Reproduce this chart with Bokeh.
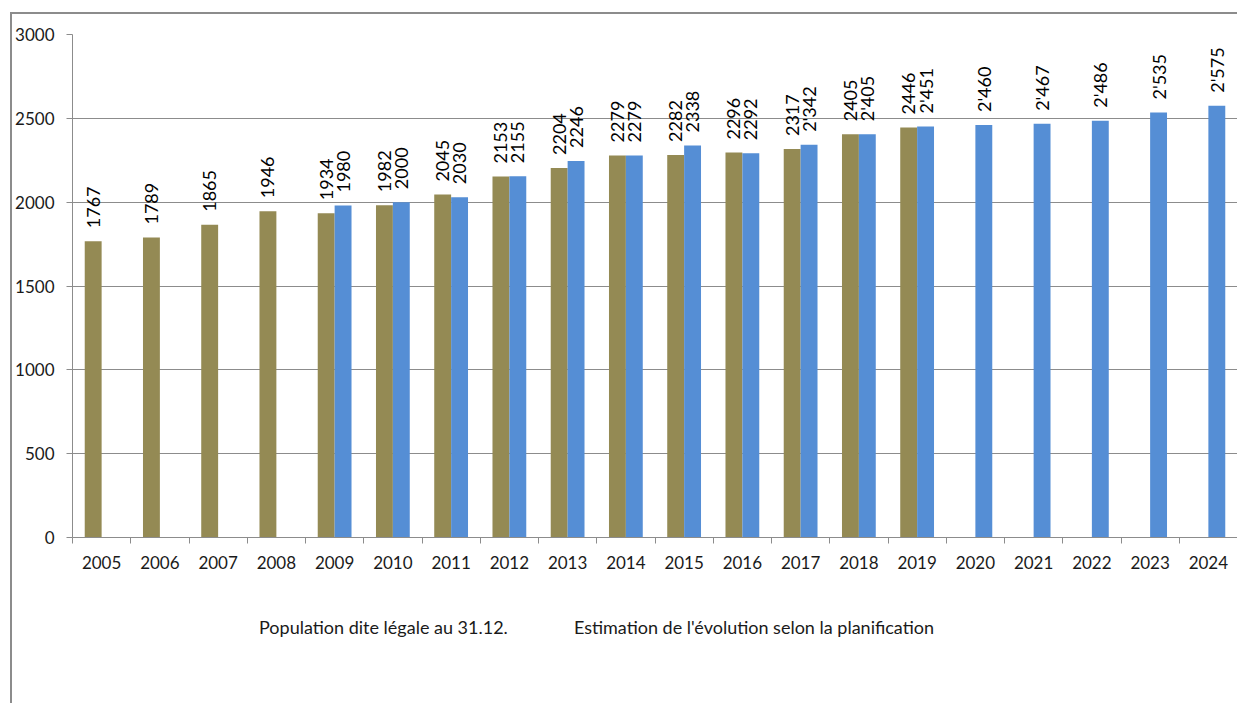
import math
from bokeh.plotting import figure
from bokeh.layouts import column
from bokeh.models import (ColumnDataSource, Range1d, FixedTicker, Legend, LegendItem)
from bokeh.transform import dodge
from bokeh.core.properties import value
from bokeh.embed import file_html
from bokeh.resources import INLINE

years = ["2005", "2006", "2007", "2008", "2009", "2010", "2011", "2012", "2013", "2014",
         "2015", "2016", "2017", "2018", "2019", "2020", "2021", "2022", "2023", "2024"]

legal_years = years[:15]
legal_pop = [1767, 1789, 1865, 1946, 1934, 1982, 2045, 2153, 2204, 2279, 2282, 2296, 2317, 2405, 2446]

plan_years = years[4:]
plan_pop = [1980, 2000, 2030, 2155, 2246, 2279, 2338, 2292, 2342, 2405, 2451, 2460, 2467, 2486, 2535, 2575]
plan_labels = ["1980", "2000", "2030", "2155", "2246", "2279", "2338", "2292", "2'342", "2'405",
               "2'451", "2'460", "2'467", "2'486", "2'535", "2'575"]

y_ticks = [0, 500, 1000, 1500, 2000, 2500, 3000]

series_names = ["Population dite légale au 31.12.", "Estimation de l'évolution selon la planification"]
colors = ["#948A54", "#558ED5"]

FONT = "Lato"
TXT = "#1a1a1a"
GRID = "#8c8c8c"

src_legal = ColumnDataSource(dict(x=[years.index(y) for y in legal_years], v=legal_pop,
                                  lab=[str(v) for v in legal_pop]))
src_plan = ColumnDataSource(dict(x=[years.index(y) for y in plan_years], v=plan_pop, lab=plan_labels))

p = figure(frame_width=1165, frame_height=503, output_backend="svg", toolbar_location=None,
           x_range=Range1d(-0.5, len(years) - 0.5), y_range=Range1d(0, 3000),
           min_border_left=60, min_border_top=20, min_border_right=0, min_border_bottom=40)
p.outline_line_color = None
p.background_fill_color = "white"
p.border_fill_color = "white"

bw = 0.29
p.vbar(x=dodge("x", -bw / 2, range=p.x_range), top="v", width=bw, source=src_legal,
       fill_color=colors[0], line_color=None)
p.vbar(x=dodge("x", bw / 2, range=p.x_range), top="v", width=bw, source=src_plan,
       fill_color=colors[1], line_color=None)

for src, off in ((src_legal, -bw / 2), (src_plan, bw / 2)):
    p.text(x=dodge("x", off, range=p.x_range), y="v", text="lab", source=src,
           angle=math.pi / 2, text_align="left", text_baseline="middle", y_offset=-13,
           text_font=value(FONT), text_font_size="18px", text_color="#000000")

# x axis: labels at category centers, ticks at boundaries (minor ticks)
p.xaxis.ticker = FixedTicker(ticks=list(range(len(years))),
                             minor_ticks=[i - 0.5 for i in range(len(years) + 1)])
p.xaxis.major_label_overrides = {i: y for i, y in enumerate(years)}
p.xaxis.major_tick_out = 0
p.xaxis.major_tick_in = 0
p.xaxis.minor_tick_out = 6
p.xaxis.minor_tick_in = 0
p.xaxis.minor_tick_line_color = GRID
p.xaxis.axis_line_color = GRID
p.xaxis.major_label_standoff = 12
p.xaxis.major_label_text_font = FONT
p.xaxis.major_label_text_font_size = "17px"
p.xaxis.major_label_text_color = TXT
p.xgrid.grid_line_color = None

p.yaxis.ticker = FixedTicker(ticks=y_ticks, minor_ticks=[])
p.yaxis.major_tick_out = 6
p.yaxis.major_tick_in = 0
p.yaxis.major_tick_line_color = GRID
p.yaxis.axis_line_color = GRID
p.yaxis.major_label_standoff = 12
p.yaxis.major_label_text_font = FONT
p.yaxis.major_label_text_font_size = "17px"
p.yaxis.major_label_text_color = TXT
p.ygrid.grid_line_color = GRID
p.ygrid.grid_line_width = 1

# legend strip below the chart
pl = figure(width=1225, height=126, output_backend="svg", toolbar_location=None,
            x_range=Range1d(0, 1), y_range=Range1d(0, 1), x_axis_type=None, y_axis_type=None,
            min_border=0)
pl.outline_line_color = None
pl.grid.visible = False
lr1 = pl.vbar(x=[], top=[], width=0.1, fill_color=colors[0], line_color=None)
lr2 = pl.vbar(x=[], top=[], width=0.1, fill_color=colors[1], line_color=None)
legend = Legend(items=[LegendItem(label=series_names[0], renderers=[lr1]),
                       LegendItem(label=series_names[1], renderers=[lr2])],
                orientation="horizontal", location=(171, 65),
                glyph_width=10, glyph_height=10, label_standoff=6, spacing=50,
                label_text_font=FONT, label_text_font_size="18px", label_text_color=TXT,
                border_line_color=None, background_fill_alpha=0, margin=0, padding=0)
pl.add_layout(legend, "center")

layout = column(p, pl, spacing=0, margin=(12, 0, 0, 10),
                styles={"border-left": "2px solid #8c8c8c", "border-top": "2px solid #8c8c8c"})

open("out.html", "w").write(file_html(layout, INLINE))
